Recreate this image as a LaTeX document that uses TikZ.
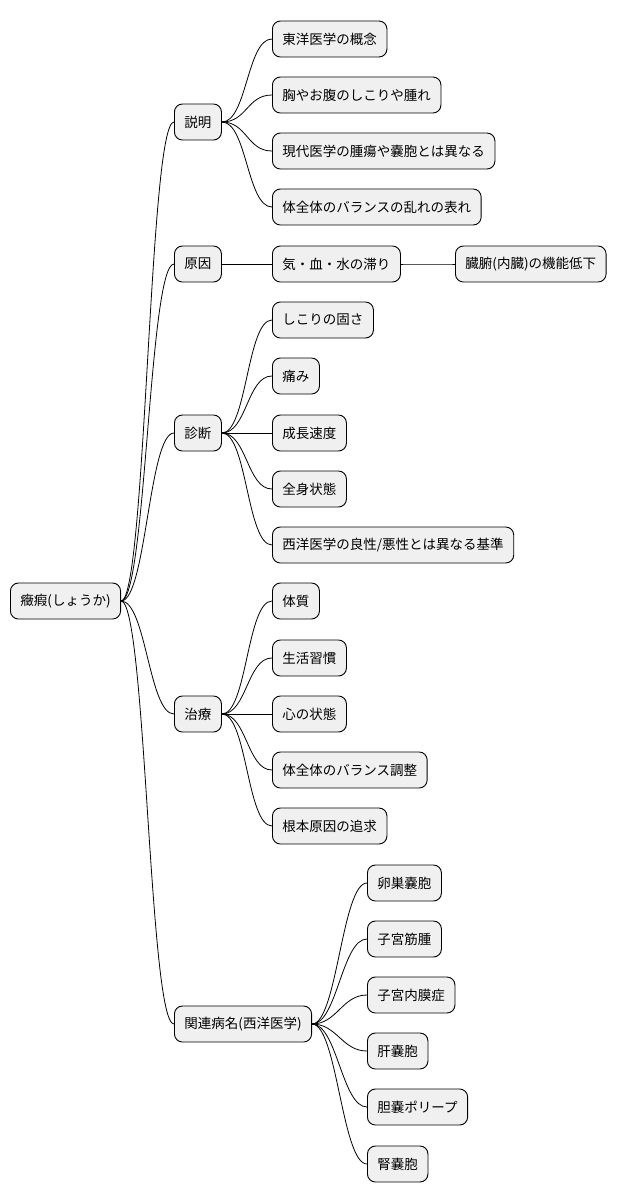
\documentclass[tikz,border=0pt]{standalone}
\usepackage{fontspec}
\setmainfont{Noto Sans CJK JP}
\begin{document}
\begin{tikzpicture}[x=1pt,y=-1pt,
  box/.style={draw=black,fill=black!6,rounded corners=8pt,minimum height=36pt,inner xsep=10pt,anchor=west,font=\fontsize{13.5pt}{16pt}\selectfont,line width=0.9pt},
  link/.style={draw=black,line width=0.8pt}]
\useasboundingbox (0,0) rectangle (622,1203);
\node[box] (r) at (10,601) {癥瘕(しょうか)};
\node[box] (a) at (174,122) {説明};
\node[box] (b) at (174,264) {原因};
\node[box] (c) at (174,433) {診断};
\node[box] (d) at (174,714) {治療};
\node[box] (e) at (174,1024) {関連病名(西洋医学)};
\node[box] (a1) at (272,39) {東洋医学の概念};
\node[box] (a2) at (272,95) {胸やお腹のしこりや腫れ};
\node[box] (a3) at (272,151) {現代医学の腫瘍や嚢胞とは異なる};
\node[box] (a4) at (272,207) {体全体のバランスの乱れの表れ};
\node[box] (b1) at (272,264) {気・血・水の滞り};
\node[box] (b2) at (455,264) {臓腑(内臓)の機能低下};
\node[box] (c1) at (272,320) {しこりの固さ};
\node[box] (c2) at (272,376) {痛み};
\node[box] (c3) at (272,433) {成長速度};
\node[box] (c4) at (272,489) {全身状態};
\node[box] (c5) at (272,545) {西洋医学の良性/悪性とは異なる基準};
\node[box] (d1) at (272,601) {体質};
\node[box] (d2) at (272,658) {生活習慣};
\node[box] (d3) at (272,714) {心の状態};
\node[box] (d4) at (272,770) {体全体のバランス調整};
\node[box] (d5) at (272,826) {根本原因の追求};
\node[box] (e1) at (367,883) {卵巣嚢胞};
\node[box] (e2) at (367,939) {子宮筋腫};
\node[box] (e3) at (367,995) {子宮内膜症};
\node[box] (e4) at (367,1051) {肝嚢胞};
\node[box] (e5) at (367,1107) {胆嚢ポリープ};
\node[box] (e6) at (367,1164) {腎嚢胞};
\foreach \p/\cs in {r/{a,b,c,d,e},a/{a1,a2,a3,a4},b/{b1},b1/{b2},c/{c1,c2,c3,c4,c5},d/{d1,d2,d3,d4,d5},e/{e1,e2,e3,e4,e5,e6}}
  \foreach \ch in \cs
    \draw[link] (\p.east) .. controls ([xshift=25pt]\p.east) and ([xshift=-25pt]\ch.west) .. (\ch.west);
\end{tikzpicture}
\end{document}
